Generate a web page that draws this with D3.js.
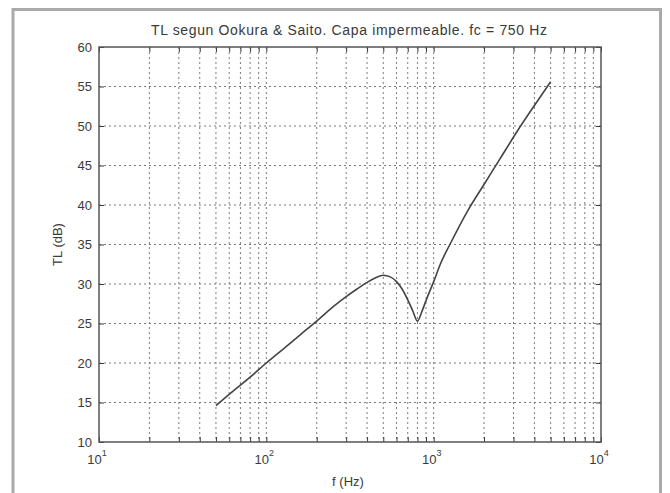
<!DOCTYPE html>
<html><head><meta charset="utf-8">
<script src="https://cdn.jsdelivr.net/npm/d3@7"></script>
<style>body{margin:0;background:#fff} svg{display:block}</style>
</head><body><svg id="c" width="670" height="493"></svg>
<script>
// ---- data ----
const freqHz = [50, 63, 80, 100, 125, 160, 200, 250, 300, 350, 400, 450, 500, 550, 600, 650, 700, 750, 800, 850, 900, 1000, 1100, 1250, 1600, 2000, 2500, 3150, 4000, 5000];
const tlDb   = [14.6, 16.4, 18.2, 20.0, 21.7, 23.6, 25.3, 27.1, 28.4, 29.4, 30.2, 30.8, 31.1, 30.9, 30.3, 29.3, 28.0, 26.6, 25.3, 26.5, 27.9, 30.3, 32.6, 35.0, 39.3, 42.6, 45.9, 49.3, 52.6, 55.6];
const yTicks = [10, 15, 20, 25, 30, 35, 40, 45, 50, 55, 60];
const xDecades = [10, 100, 1000, 10000];
const xExponents = ["1", "2", "3", "4"];
const titleText = "TL segun Ookura & Saito. Capa impermeable. fc = 750 Hz";
const xLabel = "f (Hz)";
const yLabel = "TL (dB)";

// ---- layout ----
const L = 99, R = 601, T = 47, B = 442;
const svg = d3.select("#c");
const font = "Arial, 'Liberation Sans', Helvetica, sans-serif";
const ink = "#3a3a3a";

// outer figure frame
svg.append("rect").attr("x", 13).attr("y", 9.5).attr("width", 647.5).attr("height", 495)
  .attr("fill", "#fff").attr("stroke", "#aaa").attr("stroke-width", 3);

const x = d3.scaleLog().domain([10, 10000]).range([L, R]);
const y = d3.scaleLinear().domain([10, 60]).range([B, T]);

// minor + major x positions
const xAll = [];
for (let d = 10; d < 10000; d *= 10) for (let k = 1; k <= 9; k++) xAll.push(d * k);
xAll.push(10000);

// grid
const g = svg.append("g");
g.selectAll("line.vg").data(xAll.filter(v => v > 10 && v < 10000)).enter().append("line")
  .attr("x1", d => x(d)).attr("x2", d => x(d)).attr("y1", T).attr("y2", B)
  .attr("stroke", "#7a7a7a").attr("stroke-width", 1).attr("stroke-dasharray", "2,3");
g.selectAll("line.hg").data(yTicks.filter(v => v > 10 && v < 60)).enter().append("line")
  .attr("x1", L).attr("x2", R).attr("y1", d => y(d)).attr("y2", d => y(d))
  .attr("stroke", "#7a7a7a").attr("stroke-width", 1).attr("stroke-dasharray", "2,3");

// axes ticks (inside)
const bottomAx = svg.append("g").attr("transform", `translate(0,${B})`)
  .call(d3.axisBottom(x).tickValues(xAll).tickSize(-5).tickFormat(""));
const topAx = svg.append("g").attr("transform", `translate(0,${T})`)
  .call(d3.axisTop(x).tickValues(xAll).tickSize(-5).tickFormat(""));
const leftAx = svg.append("g").attr("transform", `translate(${L},0)`)
  .call(d3.axisLeft(y).tickValues(yTicks).tickSize(-5).tickFormat(""));
const rightAx = svg.append("g").attr("transform", `translate(${R},0)`)
  .call(d3.axisRight(y).tickValues(yTicks).tickSize(-5).tickFormat(""));
[bottomAx, topAx, leftAx, rightAx].forEach(a => {
  a.select(".domain").remove();
  a.selectAll(".tick line").attr("stroke", ink).attr("stroke-width", 1);
});

// axes box
svg.append("rect").attr("x", L).attr("y", T).attr("width", R - L).attr("height", B - T)
  .attr("fill", "none").attr("stroke", "#555").attr("stroke-width", 1.5);

// y tick labels
svg.selectAll("text.yt").data(yTicks).enter().append("text")
  .attr("x", L - 7).attr("y", d => y(d)).attr("dy", "0.35em")
  .attr("text-anchor", "end").attr("font-family", font).attr("font-size", 13)
  .attr("fill", ink).text(d => d);

// x tick labels 10^n
xDecades.forEach((v, i) => {
  const t = svg.append("text").attr("x", x(v) - 2).attr("y", B + 22)
    .attr("text-anchor", "middle").attr("font-family", font).attr("font-size", 13).attr("fill", ink);
  t.append("tspan").text("10");
  t.append("tspan").attr("dy", -8).attr("font-size", 9).text(xExponents[i]);
});

// labels
svg.append("text").attr("x", (L + R) / 2 - 2).attr("y", 486).attr("text-anchor", "middle")
  .attr("font-family", font).attr("font-size", 13).attr("fill", ink).text(xLabel);
svg.append("text").attr("transform", `translate(62,${(T + B) / 2}) rotate(-90)`)
  .attr("text-anchor", "middle").attr("font-family", font).attr("font-size", 13)
  .attr("fill", ink).text(yLabel);
svg.append("text").attr("x", 349).attr("y", 35).attr("text-anchor", "middle")
  .attr("font-family", font).attr("font-size", 14).attr("fill", ink)
  .attr("textLength", 396).attr("lengthAdjust", "spacing").text(titleText);

// curve
const pts = freqHz.map((f, i) => [f, tlDb[i]]);
svg.append("path").datum(pts)
  .attr("d", d3.line().x(d => x(d[0])).y(d => y(d[1])).curve(d3.curveMonotoneX))
  .attr("fill", "none").attr("stroke", "#444").attr("stroke-width", 1.6);
</script></body></html>
